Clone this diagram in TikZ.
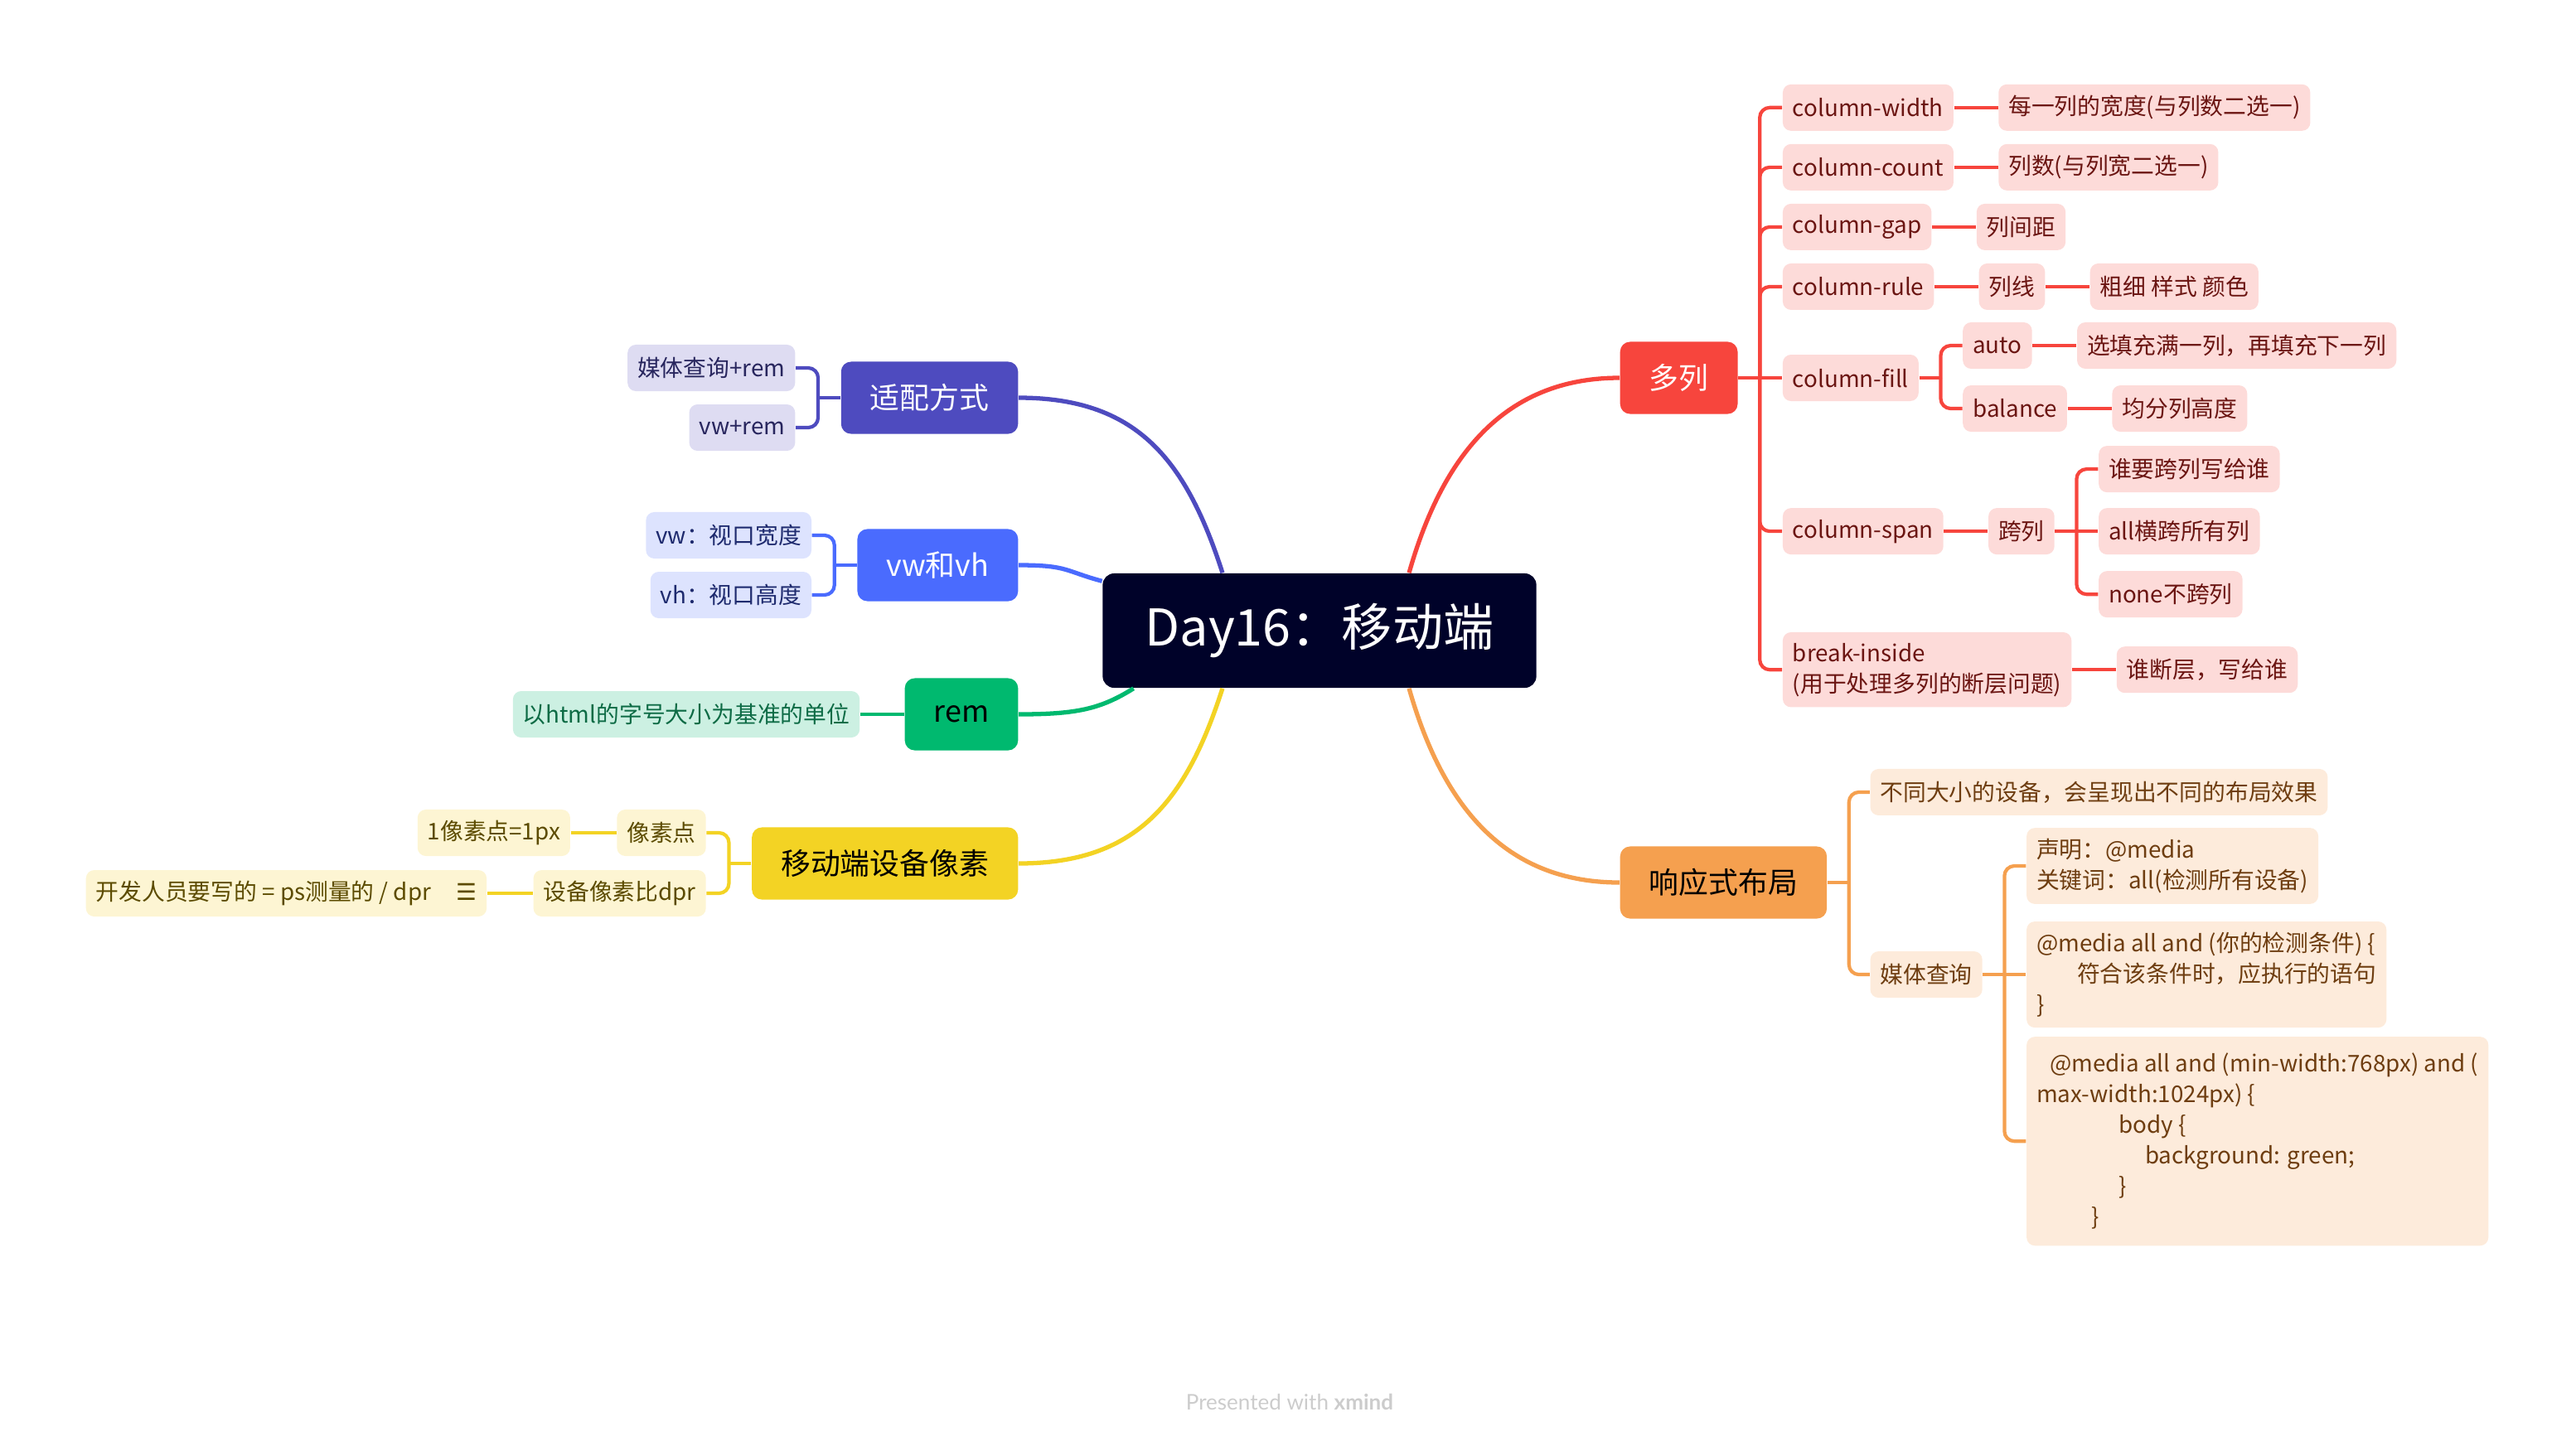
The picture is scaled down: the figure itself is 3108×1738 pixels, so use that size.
\documentclass[tikz,border=0pt]{standalone}
\usepackage{fontspec}
\setmainfont{Noto Sans CJK SC}
\newfontfamily\footfont{Lato}
\newfontfamily\iconfont{DejaVu Sans}
\usetikzlibrary{positioning}

\definecolor{rootbg}{HTML}{000229}
\definecolor{redmain}{HTML}{F7453D}
\definecolor{redlt}{HTML}{FDDBD9}
\definecolor{redtx}{HTML}{6B1512}
\definecolor{orgmain}{HTML}{F5A04F}
\definecolor{orglt}{HTML}{FDEBDB}
\definecolor{orgtx}{HTML}{6E3D10}
\definecolor{indmain}{HTML}{4E4BBF}
\definecolor{indlt}{HTML}{DEDCF2}
\definecolor{indtx}{HTML}{28265E}
\definecolor{blumain}{HTML}{4A6BFE}
\definecolor{blult}{HTML}{DDE3FE}
\definecolor{blutx}{HTML}{1E2A6E}
\definecolor{grnmain}{HTML}{00B96F}
\definecolor{grnlt}{HTML}{CCF0E2}
\definecolor{grntx}{HTML}{0D6B45}
\definecolor{ylwmain}{HTML}{F3D324}
\definecolor{ylwlt}{HTML}{FDF5D3}
\definecolor{ylwtx}{HTML}{5C4B00}
\definecolor{footgray}{HTML}{CCCCCC}

\begin{document}
\begin{tikzpicture}[x=0.01cm, y=-0.01cm, node distance=0.53cm,
    rootbox/.style={rectangle, rounded corners=0.14cm, fill=rootbg, text=white, minimum width=5.23cm, minimum height=1.38cm, font=\fontsize{17.4}{20}\selectfont},
    mainbox/.style={rectangle, rounded corners=0.12cm, minimum height=0.87cm, inner xsep=0.35cm, font=\fontsize{10.2}{12}\selectfont},
    subbox/.style={rectangle, rounded corners=0.1cm, minimum height=0.56cm, inner xsep=0.12cm, inner ysep=0.13cm, align=left, font=\fontsize{7.9}{10.5}\selectfont},
    redbox/.style={subbox, fill=redlt, text=redtx},
    orgbox/.style={subbox, fill=orglt, text=orgtx},
    indbox/.style={subbox, fill=indlt, text=indtx},
    blubox/.style={subbox, fill=blult, text=blutx},
    grnbox/.style={subbox, fill=grnlt, text=grntx},
    ylwbox/.style={subbox, fill=ylwlt, text=ylwtx},
    trunk/.style={line width=1.5pt},
    twig/.style={line width=1.2pt},
    elbow/.style={twig, rounded corners=0.12cm}]

    \useasboundingbox (0,0) rectangle (3108,1738);

    % centre and main topics
    \node[rootbox] (root) at (1592,761) {Day16：移动端};
    \node[mainbox, fill=redmain, text=white, anchor=west] (duolie) at (1954,456) {多列};
    \node[mainbox, fill=orgmain, text=black, anchor=west] (resp) at (1954,1065) {响应式布局};
    \node[mainbox, fill=indmain, text=white, anchor=east] (adapt) at (1229,480) {适配方式};
    \node[mainbox, fill=blumain, text=white, anchor=east] (vwvh) at (1229,682) {vw和vh};
    \node[mainbox, fill=grnmain, text=black, anchor=east] (rem) at (1229,862) {rem};
    \node[mainbox, fill=ylwmain, text=black, anchor=east] (pix) at (1229,1042) {移动端设备像素};

    % 多列
    \node[redbox, right=of duolie, yshift=3.26cm] (cwidth) {column-width};
    \node[redbox, right=of cwidth] (cwidthd) {每一列的宽度(与列数二选一)};
    \node[redbox, right=of duolie, yshift=2.54cm] (ccount) {column-count};
    \node[redbox, right=of ccount] (ccountd) {列数(与列宽二选一)};
    \node[redbox, right=of duolie, yshift=1.82cm] (cgap) {column-gap};
    \node[redbox, right=of cgap] (cgapd) {列间距};
    \node[redbox, right=of duolie, yshift=1.10cm] (crule) {column-rule};
    \node[redbox, right=of crule] (crulea) {列线};
    \node[redbox, right=of crulea] (cruleb) {粗细 样式 颜色};
    \node[redbox, right=of duolie] (cfill) {column-fill};
    \node[redbox, right=0.52cm of cfill, yshift=0.39cm] (fauto) {auto};
    \node[redbox, right=of fauto] (fautod) {选填充满一列，再填充下一列};
    \node[redbox, right=0.52cm of cfill, yshift=-0.37cm] (fbal) {balance};
    \node[redbox, right=of fbal] (fbald) {均分列高度};
    \node[redbox, right=of duolie, yshift=-1.85cm] (cspan) {column-span};
    \node[redbox, right=of cspan] (spanx) {跨列};
    \node[redbox, right=0.52cm of spanx, yshift=0.75cm] (spana) {谁要跨列写给谁};
    \node[redbox, right=0.52cm of spanx] (spanb) {all横跨所有列};
    \node[redbox, right=0.52cm of spanx, yshift=-0.76cm] (spanc) {none不跨列};
    \node[redbox, right=of duolie, yshift=-3.52cm] (cbreak) {break-inside\\(用于处理多列的断层问题)};
    \node[redbox, right=of cbreak] (cbreakd) {谁断层，写给谁};

    % 响应式布局
    \node[orgbox, right=0.51cm of resp, yshift=1.09cm] (rdiff) {不同大小的设备，会呈现出不同的布局效果};
    \node[orgbox, right=0.51cm of resp, yshift=-1.11cm] (rquery) {媒体查询};
    \node[orgbox, right=0.52cm of rquery, yshift=1.31cm] (rqa) {声明：@media\\关键词：all(检测所有设备)};
    \node[orgbox, right=0.52cm of rquery] (rqb) {@media all and (你的检测条件) \{\\\hspace*{0.49cm}符合该条件时，应执行的语句\\\}};
    \node[orgbox, right=0.52cm of rquery, yshift=-2.01cm, inner ysep=0.2cm] (rqc) {\hspace*{0.16cm}@media all and (min-width:768px) and (\\max-width:1024px) \{\\\hspace*{0.99cm}body \{\\\hspace*{1.31cm}background: green;\\\hspace*{0.99cm}\}\\\hspace*{0.66cm}\}};

    % 适配方式, vw和vh, rem, 移动端设备像素
    \node[indbox, left=0.54cm of adapt, yshift=0.36cm] (adapta) {媒体查询+rem};
    \node[indbox, left=0.54cm of adapt, yshift=-0.36cm] (adaptb) {vw+rem};
    \node[blubox, left=0.54cm of vwvh, yshift=0.36cm] (vwa) {vw：视口宽度};
    \node[blubox, left=0.54cm of vwvh, yshift=-0.36cm] (vwb) {vh：视口高度};
    \node[grnbox, left=of rem] (remd) {以html的字号大小为基准的单位};
    \node[ylwbox, left=0.54cm of pix, yshift=0.37cm] (pixa) {像素点};
    \node[ylwbox, left=0.55cm of pixa] (pixad) {1像素点=1px};
    \node[ylwbox, left=0.54cm of pix, yshift=-0.36cm] (pixb) {设备像素比dpr};
    \node[ylwbox, left=0.55cm of pixb] (pixbd) {开发人员要写的 = ps测量的 / dpr\hspace{0.3cm}{\iconfont ☰}};

    % trunks from the centre
    \draw[trunk, indmain] (adapt.east) .. controls +(140,0) and +(-45,-140) .. ([xshift=-1.17cm]root.north);
    \draw[trunk, blumain] (vwvh.east) .. controls +(60,0) and +(-45,-12) .. ([yshift=-0.1cm]root.north west);
    \draw[trunk, grnmain] (rem.east) .. controls +(70,0) and +(-40,25) .. ([xshift=0.38cm]root.south west);
    \draw[trunk, ylwmain] (pix.east) .. controls +(140,0) and +(-45,140) .. ([xshift=-1.17cm]root.south);
    \draw[trunk, redmain] (duolie.west) .. controls +(-140,0) and +(40,-140) .. ([xshift=1.08cm]root.north);
    \draw[trunk, orgmain] (resp.west) .. controls +(-140,0) and +(40,140) .. ([xshift=1.08cm]root.south);

    % 多列 branches
    \path (duolie.east) ++(26,0) coordinate (dlspine);
    \draw[twig, redmain] (duolie.east) -- (cfill.west);
    \foreach \n in {cwidth,ccount,cgap,crule,cspan,cbreak}
        \draw[elbow, redmain] (dlspine) |- (\n.west);
    \draw[twig, redmain] (cwidth) -- (cwidthd);
    \draw[twig, redmain] (ccount) -- (ccountd);
    \draw[twig, redmain] (cgap) -- (cgapd);
    \draw[twig, redmain] (crule) -- (crulea);
    \draw[twig, redmain] (crulea) -- (cruleb);
    \path (cfill.east) ++(26,0) coordinate (cfspine);
    \draw[twig, redmain] (cfill.east) -- (cfspine);
    \draw[elbow, redmain] (cfspine) |- (fauto.west);
    \draw[elbow, redmain] (cfspine) |- (fbal.west);
    \draw[twig, redmain] (fauto) -- (fautod);
    \draw[twig, redmain] (fbal) -- (fbald);
    \draw[twig, redmain] (cspan) -- (spanx);
    \path (spanx.east) ++(26,0) coordinate (spspine);
    \draw[twig, redmain] (spanx.east) -- (spanb.west);
    \draw[elbow, redmain] (spspine) |- (spana.west);
    \draw[elbow, redmain] (spspine) |- (spanc.west);
    \draw[twig, redmain] (cbreak) -- (cbreakd);

    % 响应式布局 branches
    \path (resp.east) ++(26,0) coordinate (rsspine);
    \draw[twig, orgmain] (resp.east) -- (rsspine);
    \draw[elbow, orgmain] (rsspine) |- (rdiff.west);
    \draw[elbow, orgmain] (rsspine) |- (rquery.west);
    \path (rquery.east) ++(26,0) coordinate (rqspine);
    \draw[twig, orgmain] (rquery.east) -- (rqb.west);
    \draw[elbow, orgmain] (rqspine) |- (rqa.west);
    \draw[elbow, orgmain] (rqspine) |- (rqc.west);

    % left branches
    \path (adapt.west) ++(-27,0) coordinate (adspine);
    \draw[twig, indmain] (adapt.west) -- (adspine);
    \draw[elbow, indmain] (adspine) |- (adapta.east);
    \draw[elbow, indmain] (adspine) |- (adaptb.east);
    \path (vwvh.west) ++(-27,0) coordinate (vwspine);
    \draw[twig, blumain] (vwvh.west) -- (vwspine);
    \draw[elbow, blumain] (vwspine) |- (vwa.east);
    \draw[elbow, blumain] (vwspine) |- (vwb.east);
    \draw[twig, grnmain] (rem) -- (remd);
    \path (pix.west) ++(-27,0) coordinate (pxspine);
    \draw[twig, ylwmain] (pix.west) -- (pxspine);
    \draw[elbow, ylwmain] (pxspine) |- (pixa.east);
    \draw[elbow, ylwmain] (pxspine) |- (pixb.east);
    \draw[twig, ylwmain] (pixa) -- (pixad);
    \draw[twig, ylwmain] (pixb) -- (pixbd);

    \node[font=\footfont\fontsize{7.4}{9}\selectfont, text=footgray] (credit) at (1556,1692) {Presented with \textbf{xmind}};
\end{tikzpicture}
\end{document}
